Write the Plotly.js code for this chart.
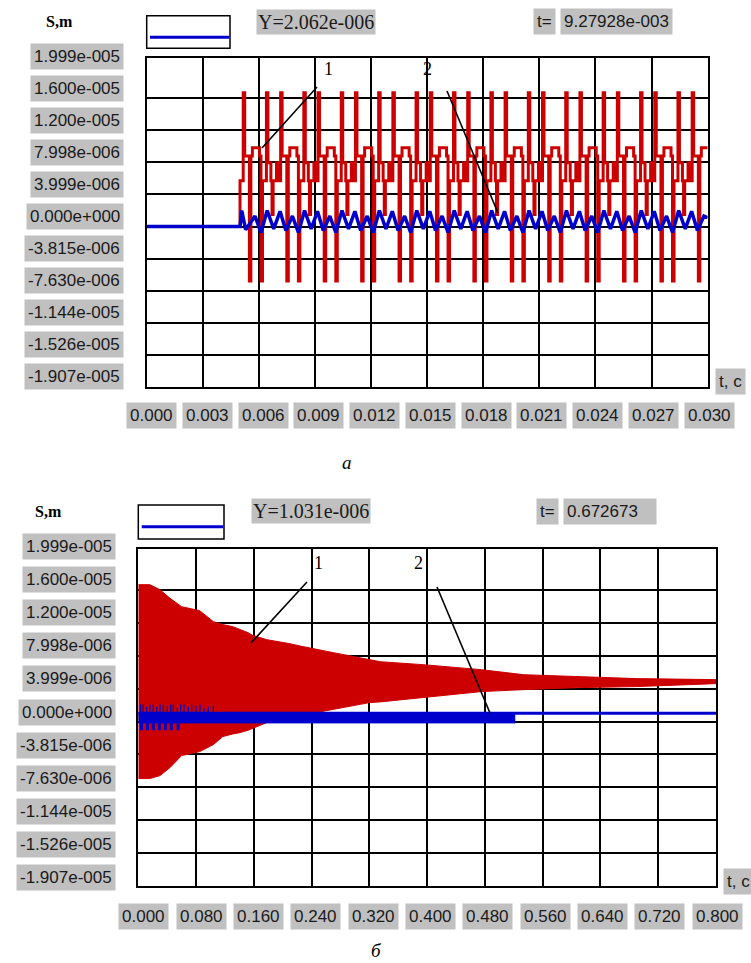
<!DOCTYPE html>
<html><head><meta charset="utf-8">
<script src="https://cdn.plot.ly/plotly-3.0.1.min.js"></script>
<style>html,body{margin:0;padding:0;background:#fff;}#chart{width:751px;height:963px;}</style>
</head><body><div id="chart"></div>
<script>
// ---------- DATA ----------
const yTickLabels = ['1.999e-005','1.600e-005','1.200e-005','7.998e-006','3.999e-006','0.000e+000','-3.815e-006','-7.630e-006','-1.144e-005','-1.526e-005','-1.907e-005'];
const xTickLabelsA = ['0.000','0.003','0.006','0.009','0.012','0.015','0.018','0.021','0.024','0.027','0.030'];
const xTickValsA = [0,0.003,0.006,0.009,0.012,0.015,0.018,0.021,0.024,0.027,0.030];
const xTickLabelsB = ['0.000','0.080','0.160','0.240','0.320','0.400','0.480','0.560','0.640','0.720','0.800'];
const xTickValsB = [0,0.08,0.16,0.24,0.32,0.40,0.48,0.56,0.64,0.72,0.80];
const yGridVals = [-1.6e-5,-1.2e-5,-8e-6,-4e-6,0,4e-6,8e-6,1.2e-5,1.6e-5];

// panel a: curve 1 (red), time s / displacement m (step waveform read period by period)
const redAT = [0,0.0050,0.00517,0.00525,
 0.0055,0.00558,0.00566,0.00604,0.00612,0.0062,0.00641,0.00649,0.00665,0.00671,0.00677,0.00695,0.00702,0.00717,0.00725,
 0.0075,0.00758,0.00766,0.00804,0.00812,0.0082,0.00841,0.00849,0.00865,0.00871,0.00877,0.00895,0.00902,0.00917,0.00925,
 0.0095,0.00958,0.00966,0.01004,0.01012,0.0102,0.01041,0.01049,0.01065,0.01071,0.01077,0.01095,0.01102,0.01117,0.01125,
 0.0115,0.01158,0.01166,0.01204,0.01212,0.0122,0.01241,0.01249,0.01265,0.01271,0.01277,0.01295,0.01302,0.01317,0.01325,
 0.0135,0.01358,0.01366,0.01404,0.01412,0.0142,0.01441,0.01449,0.01465,0.01471,0.01477,0.01495,0.01502,0.01517,0.01525,
 0.0155,0.01558,0.01566,0.01604,0.01612,0.0162,0.01641,0.01649,0.01665,0.01671,0.01677,0.01695,0.01702,0.01717,0.01725,
 0.0175,0.01758,0.01766,0.01804,0.01812,0.0182,0.01841,0.01849,0.01865,0.01871,0.01877,0.01895,0.01902,0.01917,0.01925,
 0.0195,0.01958,0.01966,0.02004,0.02012,0.0202,0.02041,0.02049,0.02065,0.02071,0.02077,0.02095,0.02102,0.02117,0.02125,
 0.0215,0.02158,0.02166,0.02204,0.02212,0.0222,0.02241,0.02249,0.02265,0.02271,0.02277,0.02295,0.02302,0.02317,0.02325,
 0.0235,0.02358,0.02366,0.02404,0.02412,0.0242,0.02441,0.02449,0.02465,0.02471,0.02477,0.02495,0.02502,0.02517,0.02525,
 0.0255,0.02558,0.02566,0.02604,0.02612,0.0262,0.02641,0.02649,0.02665,0.02671,0.02677,0.02695,0.02702,0.02717,0.02725,
 0.0275,0.02758,0.02766,0.02804,0.02812,0.0282,0.02841,0.02849,0.02865,0.02871,0.02877,0.02895,0.02902,0.02917,0.02925,
 0.0295,0.02958,0.02966,0.0300];
const redAV = [0,5.7e-6,1.67e-5,8.8e-6,
 -6.8e-6,8.8e-6,9.84e-6,8.8e-6,-6.8e-6,5.7e-6,1.67e-5,7.96e-6,5.7e-6,1.5e-6,5.7e-6,7.96e-6,5.7e-6,1.67e-5,8.8e-6,
 -6.8e-6,8.8e-6,9.84e-6,8.8e-6,-6.8e-6,5.7e-6,1.67e-5,7.96e-6,5.7e-6,1.5e-6,5.7e-6,7.96e-6,5.7e-6,1.67e-5,8.8e-6,
 -6.8e-6,8.8e-6,9.84e-6,8.8e-6,-6.8e-6,5.7e-6,1.67e-5,7.96e-6,5.7e-6,1.5e-6,5.7e-6,7.96e-6,5.7e-6,1.67e-5,8.8e-6,
 -6.8e-6,8.8e-6,9.84e-6,8.8e-6,-6.8e-6,5.7e-6,1.67e-5,7.96e-6,5.7e-6,1.5e-6,5.7e-6,7.96e-6,5.7e-6,1.67e-5,8.8e-6,
 -6.8e-6,8.8e-6,9.84e-6,8.8e-6,-6.8e-6,5.7e-6,1.67e-5,7.96e-6,5.7e-6,1.5e-6,5.7e-6,7.96e-6,5.7e-6,1.67e-5,8.8e-6,
 -6.8e-6,8.8e-6,9.84e-6,8.8e-6,-6.8e-6,5.7e-6,1.67e-5,7.96e-6,5.7e-6,1.5e-6,5.7e-6,7.96e-6,5.7e-6,1.67e-5,8.8e-6,
 -6.8e-6,8.8e-6,9.84e-6,8.8e-6,-6.8e-6,5.7e-6,1.67e-5,7.96e-6,5.7e-6,1.5e-6,5.7e-6,7.96e-6,5.7e-6,1.67e-5,8.8e-6,
 -6.8e-6,8.8e-6,9.84e-6,8.8e-6,-6.8e-6,5.7e-6,1.67e-5,7.96e-6,5.7e-6,1.5e-6,5.7e-6,7.96e-6,5.7e-6,1.67e-5,8.8e-6,
 -6.8e-6,8.8e-6,9.84e-6,8.8e-6,-6.8e-6,5.7e-6,1.67e-5,7.96e-6,5.7e-6,1.5e-6,5.7e-6,7.96e-6,5.7e-6,1.67e-5,8.8e-6,
 -6.8e-6,8.8e-6,9.84e-6,8.8e-6,-6.8e-6,5.7e-6,1.67e-5,7.96e-6,5.7e-6,1.5e-6,5.7e-6,7.96e-6,5.7e-6,1.67e-5,8.8e-6,
 -6.8e-6,8.8e-6,9.84e-6,8.8e-6,-6.8e-6,5.7e-6,1.67e-5,7.96e-6,5.7e-6,1.5e-6,5.7e-6,7.96e-6,5.7e-6,1.67e-5,8.8e-6,
 -6.8e-6,8.8e-6,9.84e-6,8.8e-6,-6.8e-6,5.7e-6,1.67e-5,7.96e-6,5.7e-6,1.5e-6,5.7e-6,7.96e-6,5.7e-6,1.67e-5,8.8e-6,
 -6.8e-6,8.8e-6,9.84e-6,9.84e-6];

// panel a: curve 2 (blue)
const blueAT = [0,0.0050,0.00509,0.0053,
 0.0058,0.00612,0.00645,0.0068,0.00714,0.00745,
 0.0078,0.00812,0.00845,0.0088,0.00914,0.00945,
 0.0098,0.01012,0.01045,0.0108,0.01114,0.01145,
 0.0118,0.01212,0.01245,0.0128,0.01314,0.01345,
 0.0138,0.01412,0.01445,0.0148,0.01514,0.01545,
 0.0158,0.01612,0.01645,0.0168,0.01714,0.01745,
 0.0178,0.01812,0.01845,0.0188,0.01914,0.01945,
 0.0198,0.02012,0.02045,0.0208,0.02114,0.02145,
 0.0218,0.02212,0.02245,0.0228,0.02314,0.02345,
 0.0238,0.02412,0.02445,0.0248,0.02514,0.02545,
 0.0258,0.02612,0.02645,0.0268,0.02714,0.02745,
 0.0278,0.02812,0.02845,0.0288,0.02914,0.02945,
 0.0298,0.0300];
const blueAV = [0,0,2.0e-6,-0.4e-6,
 1.3e-6,-0.75e-6,2.0e-6,-0.3e-6,1.9e-6,-0.5e-6,
 1.3e-6,-0.75e-6,2.0e-6,-0.3e-6,1.9e-6,-0.5e-6,
 1.3e-6,-0.75e-6,2.0e-6,-0.3e-6,1.9e-6,-0.5e-6,
 1.3e-6,-0.75e-6,2.0e-6,-0.3e-6,1.9e-6,-0.5e-6,
 1.3e-6,-0.75e-6,2.0e-6,-0.3e-6,1.9e-6,-0.5e-6,
 1.3e-6,-0.75e-6,2.0e-6,-0.3e-6,1.9e-6,-0.5e-6,
 1.3e-6,-0.75e-6,2.0e-6,-0.3e-6,1.9e-6,-0.5e-6,
 1.3e-6,-0.75e-6,2.0e-6,-0.3e-6,1.9e-6,-0.5e-6,
 1.3e-6,-0.75e-6,2.0e-6,-0.3e-6,1.9e-6,-0.5e-6,
 1.3e-6,-0.75e-6,2.0e-6,-0.3e-6,1.9e-6,-0.5e-6,
 1.3e-6,-0.75e-6,2.0e-6,-0.3e-6,1.9e-6,-0.5e-6,
 1.3e-6,-0.75e-6,2.0e-6,-0.3e-6,1.9e-6,-0.5e-6,
 1.3e-6,1.1e-6];

// panel b: curve 1 (red) envelope
const redBT     = [0,0.016,0.030,0.044,0.060,0.085,0.104,0.117,0.131,0.141,0.152,0.158,0.178,0.21,0.224,0.27,0.32,0.335,0.394,0.475,0.533,0.608,0.69,0.8];
const redBUpper = [1.666e-5,1.666e-5,1.605e-5,1.50e-5,1.398e-5,1.35e-5,1.216e-5,1.18e-5,1.155e-5,1.12e-5,1.082e-5,1.05e-5,9.97e-6,9.48e-6,9.2e-6,8.39e-6,7.5e-6,7.29e-6,6.93e-6,6.32e-6,5.71e-6,5.47e-6,5.23e-6,5.11e-6];
const redBLower = [-6.93e-6,-6.93e-6,-6.57e-6,-5.59e-6,-4.13e-6,-3.65e-6,-2.80e-6,-1.82e-6,-1.50e-6,-1.34e-6,-1.05e-6,-0.85e-6,-0.12e-6,0.5e-6,0.73e-6,1.46e-6,2.31e-6,2.4e-6,2.92e-6,3.65e-6,3.89e-6,4.13e-6,4.26e-6,4.62e-6];

// panel b: curve 2 (blue)
const blueBBandT = [0,0.522];
const blueBBandTop = [1.06e-6,1.06e-6];
const blueBBandBottom = [-0.16e-6,-0.16e-6];
const blueBLineT = [0,0.8];
const blueBLineV = [1.03e-6,1.03e-6];
const blueBSpikeBase = 1.0e-6;
const blueBSpikeT = [0.0033,0.0069,0.0116,0.0162,0.0208,0.0255,0.0301,0.0346,0.0402,0.0449,0.0485,0.054,0.0587,0.0633,0.0692,0.0739,0.0799,0.0854,0.0911,0.0969,0.1039];
const blueBSpikeTop = [2.07e-6,2.07e-6,1.8e-6,2.07e-6,2.07e-6,1.8e-6,2.07e-6,2.07e-6,1.9e-6,2.07e-6,2.07e-6,1.7e-6,2.07e-6,2.07e-6,1.8e-6,2.07e-6,1.9e-6,2.07e-6,1.6e-6,1.8e-6,2.0e-6];
const blueBDipBase = -0.1e-6;
const blueBDipT = [0.0044,0.0127,0.0208,0.0291,0.0374,0.0457,0.055];
const blueBDipBottom = [-1.06e-6,-1.06e-6,-1.06e-6,-1.06e-6,-1.06e-6,-1.06e-6,-1.06e-6];

const readoutA = {y:'Y=2.062e-006', t:'9.27928e-003'};
const readoutB = {y:'Y=1.031e-006', t:'0.672673'};

// ---------- LAYOUT HELPERS ----------
const W=751, H=963;
const px = x => x/W, py = y => 1 - y/H;
const RED='#cc0000', BLUE='#0000cc', GREY='#c0c0c0', TXT='#1a1a1a';
const SANS='Liberation Sans, Arial, sans-serif', SERIF='Liberation Serif, Times New Roman, serif';

function spikes(ts, base, ends){const X=[],Y=[];ts.forEach((t,i)=>{X.push(t,t,null);Y.push(base,ends[i],null);});return {X,Y};}
const sp = spikes(blueBSpikeT, blueBSpikeBase, blueBSpikeTop);
const dp = spikes(blueBDipT, blueBDipBase, blueBDipBottom);

const traces = [
 {x:redAT,y:redAV,type:'scatter',mode:'lines',line:{color:RED,width:3,shape:'hv'},xaxis:'x',yaxis:'y',hoverinfo:'skip'},
 {x:blueAT,y:blueAV,type:'scatter',mode:'lines',line:{color:BLUE,width:3.5},xaxis:'x',yaxis:'y',hoverinfo:'skip'},
 {x:redBT,y:redBUpper,type:'scatter',mode:'lines',line:{color:RED,width:1},xaxis:'x2',yaxis:'y2',hoverinfo:'skip'},
 {x:redBT,y:redBLower,type:'scatter',mode:'lines',fill:'tonexty',fillcolor:RED,line:{color:RED,width:1},xaxis:'x2',yaxis:'y2',hoverinfo:'skip'},
 {x:blueBBandT,y:blueBBandTop,type:'scatter',mode:'lines',line:{color:BLUE,width:1},xaxis:'x2',yaxis:'y2',hoverinfo:'skip'},
 {x:blueBBandT,y:blueBBandBottom,type:'scatter',mode:'lines',fill:'tonexty',fillcolor:BLUE,line:{color:BLUE,width:1},xaxis:'x2',yaxis:'y2',hoverinfo:'skip'},
 {x:blueBLineT,y:blueBLineV,type:'scatter',mode:'lines',line:{color:BLUE,width:3},xaxis:'x2',yaxis:'y2',hoverinfo:'skip'},
 {x:sp.X,y:sp.Y,type:'scatter',mode:'lines',line:{color:BLUE,width:1.3},connectgaps:false,xaxis:'x2',yaxis:'y2',hoverinfo:'skip'},
 {x:dp.X,y:dp.Y,type:'scatter',mode:'lines',line:{color:BLUE,width:3},connectgaps:false,xaxis:'x2',yaxis:'y2',hoverinfo:'skip'}
];

const axBase = {showticklabels:false,ticks:'',showgrid:true,gridcolor:'#000',gridwidth:2,showline:true,mirror:true,linecolor:'#000',linewidth:2,zeroline:false,fixedrange:true};
const layout = {
 width:W,height:H,margin:{l:0,r:0,t:0,b:0},paper_bgcolor:'#fff',plot_bgcolor:'#fff',showlegend:false,
 xaxis:Object.assign({},axBase,{domain:[px(146.5),px(707.7)],range:[0,0.03],tickvals:xTickValsA,anchor:'y'}),
 yaxis:Object.assign({},axBase,{domain:[py(386.7),py(58.3)],range:[-2e-5,2.1e-5],tickvals:yGridVals,anchor:'x'}),
 xaxis2:Object.assign({},axBase,{domain:[px(138.3),px(716)],range:[0,0.8],tickvals:xTickValsB,anchor:'y2'}),
 yaxis2:Object.assign({},axBase,{domain:[py(886),py(549)],range:[-2e-5,2.1e-5],tickvals:yGridVals,anchor:'x2'}),
 annotations:[], shapes:[]
};
const A = layout.annotations, S = layout.shapes;
function box(text,x,y,opts){
 A.push(Object.assign({xref:'paper',yref:'paper',x:px(x),y:py(y),text:text,showarrow:false,xanchor:'center',yanchor:'middle',
  bgcolor:GREY,borderpad:3,font:{family:SANS,size:17,color:TXT}},opts||{}));
}
function label(text,x,y,font){A.push({xref:'paper',yref:'paper',x:px(x),y:py(y),text:text,showarrow:false,xanchor:'center',yanchor:'middle',font:font});}
function line(x0,y0,x1,y1,color,width){S.push({type:'line',xref:'paper',yref:'paper',x0:px(x0),y0:py(y0),x1:px(x1),y1:py(y1),line:{color:color,width:width}});}
function rect(x0,y0,x1,y1){S.push({type:'rect',xref:'paper',yref:'paper',x0:px(x0),y0:py(y0),x1:px(x1),y1:py(y1),line:{color:'#000',width:1.5},fillcolor:'rgba(0,0,0,0)'});}

// panel a decorations
yTickLabels.forEach((t,i)=>box(t,124,56+32.07*i,{xanchor:'right'}));
xTickLabelsA.forEach((t,i)=>box(t,151.8+55.72*i,415.7));
box('t, c',715,381.7,{xanchor:'left'});
label('S,m',59,21,{family:SERIF,size:16,color:'#000',weight:'bold'});
rect(146.7,15.7,230,48.3); line(150,37.3,229.3,37.3,BLUE,3);
box(readoutA.y,256,22,{xanchor:'left',font:{family:SERIF,size:20,color:TXT},borderpad:1});
box('t=',544.3,22);
box(readoutA.t,560,22,{xanchor:'left'});
label('1',328,69,{family:SERIF,size:18,color:'#000'});
label('2',428,69,{family:SERIF,size:18,color:'#000'});
line(317,87,262,148,'#000',1.6);
line(447,91,498,213,'#000',1.6);
label('<i>а</i>',347,462,{family:SERIF,size:19,color:'#000'});

// panel b decorations
yTickLabels.forEach((t,i)=>box(t,116,546.3+33.15*i,{xanchor:'right'}));
xTickLabelsB.forEach((t,i)=>box(t,143.7+57.33*i,916.7));
box('t, c',723,881.5,{xanchor:'left'});
label('S,m',48,511,{family:SERIF,size:16,color:'#000',weight:'bold'});
rect(138.3,505,224,539); line(141.7,526.7,223.3,526.7,BLUE,3);
box(readoutB.y,251,511.3,{xanchor:'left',font:{family:SERIF,size:20,color:TXT},borderpad:1});
box('t=',547.5,511.5);
box(readoutB.t,563.3,511.5,{xanchor:'left',width:86,align:'left'});
label('1',318,563,{family:SERIF,size:18,color:'#000'});
label('2',418,563,{family:SERIF,size:18,color:'#000'});
line(307,582,251,643,'#000',1.6);
line(437,587,490,713,'#000',1.6);
label('<i>б</i>',376,950,{family:SERIF,size:19,color:'#000'});

Plotly.newPlot('chart',traces,layout,{staticPlot:true,displayModeBar:false});
</script></body></html>
